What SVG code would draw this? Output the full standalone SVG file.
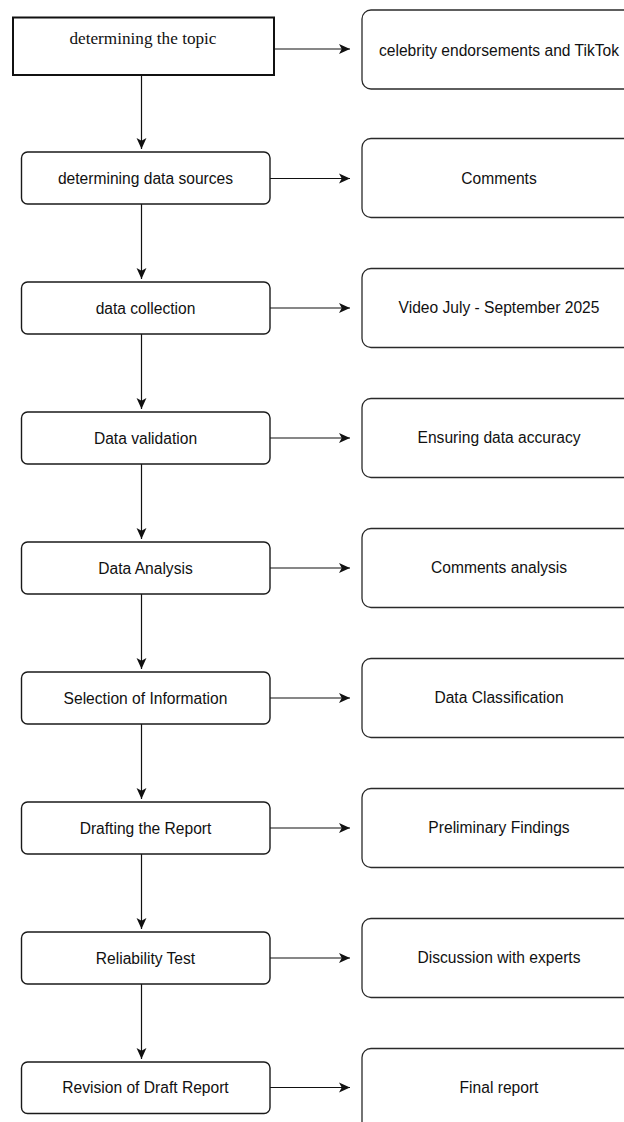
<svg xmlns="http://www.w3.org/2000/svg" width="624" height="1122" viewBox="0 0 624 1122">
  <style>
    .step { fill: #ffffff; stroke: #1a1a1a; stroke-width: 1.4; }
    .first { fill: #ffffff; stroke: #111111; stroke-width: 2; }
    .out { fill: #ffffff; stroke: #2a2a2a; stroke-width: 1.3; }
    .label { font-family: "Liberation Sans", Arial, sans-serif; font-size: 15.6px; fill: #111111; text-anchor: middle; dominant-baseline: central; }
    .serif { font-family: "Liberation Serif", "Times New Roman", serif; font-size: 17.2px; fill: #111111; text-anchor: middle; dominant-baseline: central; }
    .wire { stroke: #111111; stroke-width: 1.2; fill: none; marker-end: url(#head); }
  </style>
  <defs>
    <marker id="head" viewBox="0 0 10 10" refX="10" refY="5" markerWidth="11" markerHeight="11" markerUnits="userSpaceOnUse" orient="auto">
      <path d="M0,0.5 L10,5 L0,9.5 L2.5,5 Z" fill="#111111"/>
    </marker>
  </defs>
  <rect width="624" height="1122" fill="#ffffff"/>

  <g id="connectors">
    <!-- horizontal: step to outcome -->
    <line class="wire" x1="274" y1="49" x2="350" y2="49"/>
    <line class="wire" x1="270" y1="178.5" x2="350" y2="178.5" stroke-width="2"/>
    <line class="wire" x1="270" y1="308" x2="350" y2="308"/>
    <line class="wire" x1="270" y1="438" x2="350" y2="438"/>
    <line class="wire" x1="270" y1="568" x2="350" y2="568"/>
    <line class="wire" x1="270" y1="698" x2="350" y2="698"/>
    <line class="wire" x1="270" y1="828" x2="350" y2="828"/>
    <line class="wire" x1="270" y1="958" x2="350" y2="958"/>
    <line class="wire" x1="270" y1="1087.5" x2="350" y2="1087.5"/>
    <!-- vertical: step to next step -->
    <line class="wire" x1="141.5" y1="76" x2="141.5" y2="149"/>
    <line class="wire" x1="141.5" y1="204" x2="141.5" y2="279"/>
    <line class="wire" x1="141.5" y1="334" x2="141.5" y2="409"/>
    <line class="wire" x1="141.5" y1="464" x2="141.5" y2="539"/>
    <line class="wire" x1="141.5" y1="594" x2="141.5" y2="669"/>
    <line class="wire" x1="141.5" y1="724" x2="141.5" y2="799"/>
    <line class="wire" x1="141.5" y1="854" x2="141.5" y2="929"/>
    <line class="wire" x1="141.5" y1="984" x2="141.5" y2="1059"/>
  </g>

  <g id="step1"><rect class="first" x="13" y="17.5" width="261" height="57.5"/><text class="serif" x="143" y="38">determining the topic</text></g>
  <g id="step2"><rect class="step" x="21.5" y="152" width="248.5" height="52" rx="6"/><text class="label" x="145.5" y="178">determining data sources</text></g>
  <g id="step3"><rect class="step" x="21.5" y="282" width="248.5" height="52" rx="6"/><text class="label" x="145.5" y="308">data collection</text></g>
  <g id="step4"><rect class="step" x="21.5" y="412" width="248.5" height="52" rx="6"/><text class="label" x="145.5" y="438">Data validation</text></g>
  <g id="step5"><rect class="step" x="21.5" y="542" width="248.5" height="52" rx="6"/><text class="label" x="145.5" y="568">Data Analysis</text></g>
  <g id="step6"><rect class="step" x="21.5" y="672" width="248.5" height="52" rx="6"/><text class="label" x="145.5" y="698">Selection of Information</text></g>
  <g id="step7"><rect class="step" x="21.5" y="802" width="248.5" height="52" rx="6"/><text class="label" x="145.5" y="828">Drafting the Report</text></g>
  <g id="step8"><rect class="step" x="21.5" y="932" width="248.5" height="52" rx="6"/><text class="label" x="145.5" y="958">Reliability Test</text></g>
  <g id="step9"><rect class="step" x="21.5" y="1062" width="248.5" height="51.5" rx="6"/><text class="label" x="145.5" y="1087.5">Revision of Draft Report</text></g>

  <g id="out1"><rect class="out" x="362" y="10" width="274" height="79" rx="9"/><text class="label" x="499" y="50">celebrity endorsements and TikTok</text></g>
  <g id="out2"><rect class="out" x="362" y="138.5" width="274" height="79" rx="9"/><text class="label" x="499" y="178">Comments</text></g>
  <g id="out3"><rect class="out" x="362" y="268.5" width="274" height="79" rx="9"/><text class="label" x="499" y="307.5">Video July - September 2025</text></g>
  <g id="out4"><rect class="out" x="362" y="398.5" width="274" height="79" rx="9"/><text class="label" x="499" y="437.5">Ensuring data accuracy</text></g>
  <g id="out5"><rect class="out" x="362" y="528.5" width="274" height="79" rx="9"/><text class="label" x="499" y="567.5">Comments analysis</text></g>
  <g id="out6"><rect class="out" x="362" y="658.5" width="274" height="79" rx="9"/><text class="label" x="499" y="697.5">Data Classification</text></g>
  <g id="out7"><rect class="out" x="362" y="788.5" width="274" height="79" rx="9"/><text class="label" x="499" y="827.5">Preliminary Findings</text></g>
  <g id="out8"><rect class="out" x="362" y="918.5" width="274" height="79" rx="9"/><text class="label" x="499" y="957.5">Discussion with experts</text></g>
  <g id="out9"><rect class="out" x="362" y="1048.5" width="274" height="90" rx="9"/><text class="label" x="499" y="1087.5">Final report</text></g>
</svg>
